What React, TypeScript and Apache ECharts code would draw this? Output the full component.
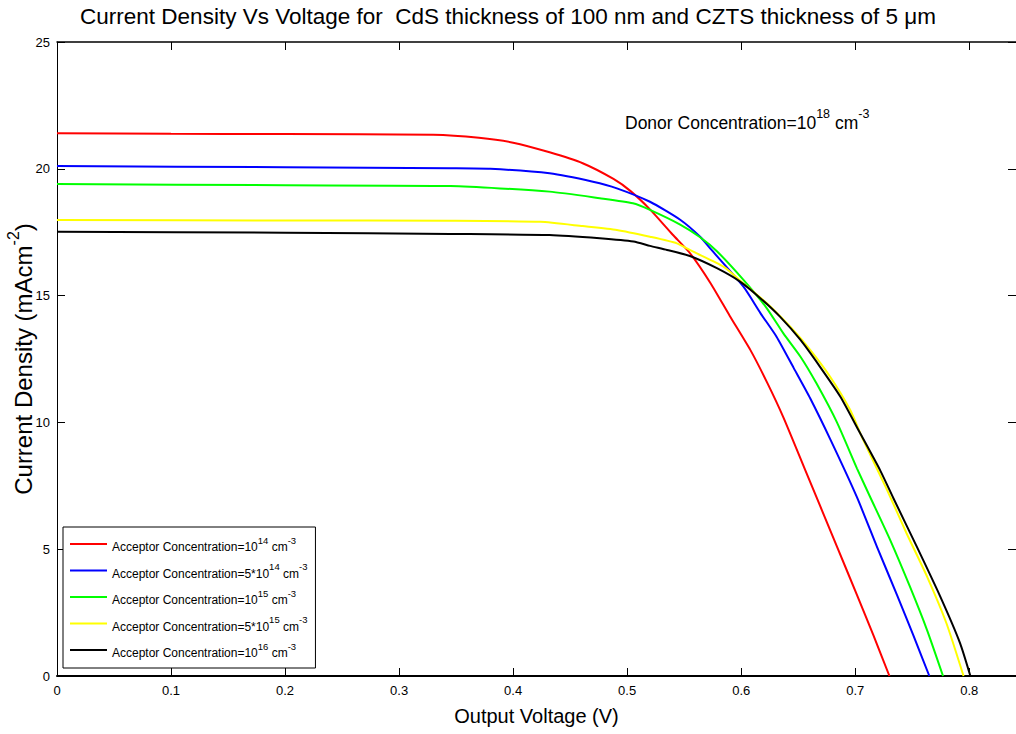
import React, { useEffect, useRef } from "react";
import * as echarts from "echarts";

const FONT = '"Liberation Sans", Arial, sans-serif';

const seriesNames = [
  "Acceptor Concentration=10^14 cm^-3",
  "Acceptor Concentration=5*10^14 cm^-3",
  "Acceptor Concentration=10^15 cm^-3",
  "Acceptor Concentration=5*10^15 cm^-3",
  "Acceptor Concentration=10^16 cm^-3",
];
const legendBase = ["Acceptor Concentration=10", "Acceptor Concentration=5*10", "Acceptor Concentration=10", "Acceptor Concentration=5*10", "Acceptor Concentration=10"];
const legendExp = ["14", "14", "15", "15", "16"];
const seriesColors = ["#ff0000", "#0000ff", "#00ff00", "#ffff00", "#000000"];

const redV = [0, 0.1, 0.2, 0.33, 0.37, 0.4, 0.432, 0.461, 0.488, 0.503, 0.52, 0.54, 0.555, 0.573, 0.59, 0.608, 0.623, 0.637, 0.655, 0.684, 0.7015, 0.716, 0.73];
const redJ = [21.4, 21.38, 21.37, 21.34, 21.22, 21.03, 20.65, 20.22, 19.6, 19.12, 18.4, 17.4, 16.68, 15.5, 14.2, 12.86, 11.55, 10.2, 8.25, 5.1, 3.2, 1.6, 0];

const blueV = [0, 0.2, 0.345, 0.38, 0.432, 0.47, 0.491, 0.52, 0.5465, 0.564, 0.574, 0.602, 0.617, 0.631, 0.646, 0.6605, 0.679, 0.7015, 0.719, 0.7366, 0.751, 0.765];
const blueJ = [20.11, 20.06, 20.02, 20.0, 19.82, 19.49, 19.23, 18.7, 17.99, 17.32, 16.8, 15.35, 14.3, 13.38, 12.15, 10.95, 9.25, 7.05, 5.1, 3.2, 1.6, 0];

const greenV = [0, 0.2, 0.345, 0.432, 0.476, 0.505, 0.52, 0.5465, 0.564, 0.5787, 0.602, 0.6225, 0.637, 0.652, 0.666, 0.684, 0.7015, 0.713, 0.7307, 0.748, 0.763, 0.777];
const greenJ = [19.4, 19.35, 19.32, 19.1, 18.84, 18.64, 18.38, 17.8, 17.3, 16.75, 15.62, 14.5, 13.51, 12.59, 11.54, 10.0, 8.19, 7.07, 5.36, 3.52, 1.81, 0];

const yellowV = [0, 0.2, 0.345, 0.424, 0.461, 0.491, 0.52, 0.5436, 0.558, 0.5845, 0.602, 0.6225, 0.643, 0.6605, 0.678, 0.6956, 0.707, 0.728, 0.745, 0.763, 0.78, 0.795];
const yellowJ = [17.98, 17.96, 17.95, 17.91, 17.74, 17.59, 17.32, 17.06, 16.73, 16.14, 15.48, 14.7, 13.77, 12.86, 11.8, 10.49, 9.31, 7.33, 5.63, 3.92, 2.08, 0];

const blackV = [0, 0.2, 0.345, 0.432, 0.476, 0.5056, 0.52, 0.535, 0.555, 0.5787, 0.599, 0.617, 0.634, 0.652, 0.669, 0.687, 0.704, 0.722, 0.7336, 0.754, 0.7746, 0.792, 0.801];
const blackJ = [17.52, 17.48, 17.43, 17.39, 17.26, 17.13, 16.96, 16.8, 16.56, 16.08, 15.55, 14.89, 14.17, 13.25, 12.2, 11.01, 9.6, 8.1, 7.0, 5.1, 3.13, 1.29, 0];

const allV = [redV, blueV, greenV, yellowV, blackV];
const allJ = [redJ, blueJ, greenJ, yellowJ, blackJ];

const xTickInterval = 0.1;
const yTickInterval = 5;

export default function App() {
  const ref = useRef<HTMLDivElement>(null);
  useEffect(() => {
    if (!ref.current) return;
    const chart = echarts.init(ref.current, undefined, { renderer: "svg" });
    const series = seriesNames.map((name, i) => ({
      name,
      type: "line",
      showSymbol: false,
      symbol: "none",
      smooth: 0.2,
      data: allV[i].map((v, k) => [v, allJ[i][k]]),
      lineStyle: { color: seriesColors[i], width: 2 },
      itemStyle: { color: seriesColors[i] },
      xAxisIndex: 0,
      yAxisIndex: 0,
      z: 2 + i,
    }));
    const tickCommon = { show: true, inside: true, length: 8, lineStyle: { color: "#000", width: 1 } };
    const option: any = {
      animation: false,
      backgroundColor: "#ffffff",
      textStyle: { fontFamily: FONT },
      title: {
        text: "Current Density Vs Voltage for  CdS thickness of 100 nm and CZTS thickness of 5 μm",
        left: "center",
        top: 0,
        textStyle: { fontFamily: FONT, fontSize: 22.5, fontWeight: "normal", color: "#000" },
      },
      grid: { left: 57, right: 0, top: 42, bottom: 58, containLabel: false, outerBoundsMode: "none" },
      legend: {
        left: 63,
        top: 527,
        orient: "vertical",
        icon: "rect",
        itemWidth: 37,
        itemHeight: 2,
        itemGap: 8.5,
        padding: [8, 8, 9, 7],
        borderColor: "#000",
        borderWidth: 1,
        backgroundColor: "#fff",
        data: seriesNames,
        formatter: (name: string) => {
          const i = seriesNames.indexOf(name);
          return `{b|${legendBase[i]}}{s|${legendExp[i]}}{b| cm}{s|-3}`;
        },
        textStyle: {
          fontFamily: FONT,
          color: "#000",
          rich: {
            b: { fontFamily: FONT, fontSize: 12, lineHeight: 15, color: "#000", padding: [6, 0, 0, 0] },
            s: { fontFamily: FONT, fontSize: 9.5, lineHeight: 12, color: "#000", padding: [0, 0, 8, 0] },
          },
        },
      },
      xAxis: [
        {
          type: "value",
          position: "bottom",
          min: 0,
          max: 0.841,
          interval: xTickInterval,
          axisLine: { show: true, onZero: false, lineStyle: { color: "#000", width: 2 } },
          axisTick: tickCommon,
          splitLine: { show: false },
          axisLabel: { color: "#000", fontSize: 13, margin: 8, showMaxLabel: false, fontFamily: FONT },
          name: "Output Voltage (V)",
          nameLocation: "middle",
          nameGap: 30,
          nameMoveOverlap: false,
          nameTextStyle: { fontFamily: FONT, fontSize: 20, color: "#000" },
        },
        {
          type: "value",
          position: "top",
          min: 0,
          max: 0.841,
          interval: xTickInterval,
          axisLine: { show: true, onZero: false, lineStyle: { color: "#000", width: 1.5 } },
          axisTick: tickCommon,
          splitLine: { show: false },
          axisLabel: { show: false },
        },
      ],
      yAxis: [
        {
          type: "value",
          position: "left",
          min: 0,
          max: 25,
          interval: yTickInterval,
          axisLine: { show: true, onZero: false, lineStyle: { color: "#000", width: 1 } },
          axisTick: tickCommon,
          splitLine: { show: false },
          axisLabel: { color: "#000", fontSize: 13, margin: 7, fontFamily: FONT },
          name: "{a|Current Density (mAcm}{s|-2}{a|)}",
          nameLocation: "middle",
          nameRotate: 90,
          nameGap: 22,
          nameMoveOverlap: false,
          nameTextStyle: {
            fontFamily: FONT,
            color: "#000",
            rich: {
              a: { fontFamily: FONT, fontSize: 24, color: "#000", padding: [8, 0, 0, 0] },
              s: { fontFamily: FONT, fontSize: 16, color: "#000", padding: [0, 0, 12, 0] },
            },
          },
        },
        {
          type: "value",
          position: "right",
          min: 0,
          max: 25,
          interval: yTickInterval,
          axisLine: { show: true, onZero: false, lineStyle: { color: "#000", width: 1 } },
          axisTick: tickCommon,
          splitLine: { show: false },
          axisLabel: { show: false },
        },
      ],
      graphic: [
        {
          type: "text",
          left: 625,
          top: 107,
          style: {
            text: "{b|Donor Concentration=10}{s|18}{b| cm}{s|-3}",
            rich: {
              b: { fontFamily: FONT, fontSize: 17.5, fill: "#000", padding: [8, 0, 0, 0] },
              s: { fontFamily: FONT, fontSize: 12.5, fill: "#000", padding: [0, 0, 10, 0] },
            },
          },
        },
      ],
      series,
    };
    chart.setOption(option);
    return () => chart.dispose();
  }, []);
  return <div ref={ref} style={{ position: "absolute", left: 0, top: 0, width: 1016, height: 734 }} />;
}
